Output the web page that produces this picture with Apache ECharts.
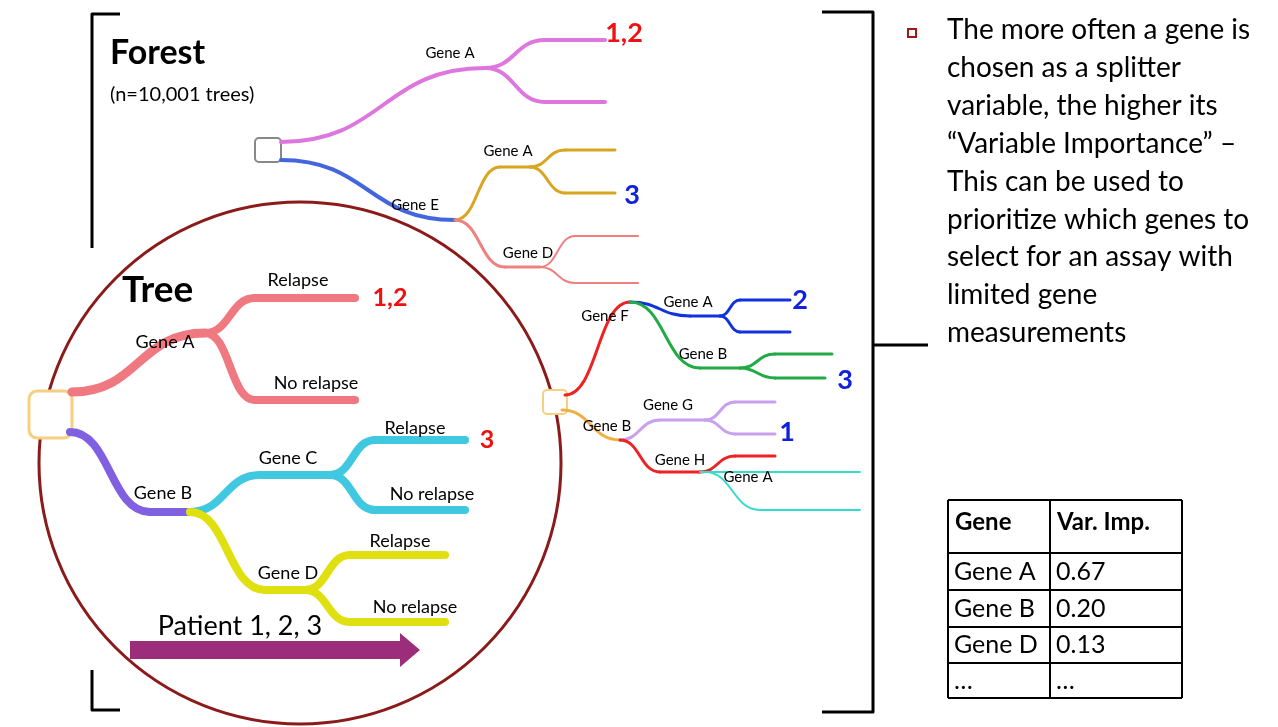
<!DOCTYPE html>
<html><head><meta charset="utf-8">
<script src="https://cdn.jsdelivr.net/npm/echarts@6/dist/echarts.min.js"></script>
<style>html,body{margin:0;background:#fff}#main{width:1278px;height:727px}</style>
</head><body><div id="main"></div>
<script>
// branch segments: x1, y1, x2, y2, colour, width (S-curve, flat when y1==y2)
var branches = [
  // forest tree 1
  [281,142,485,68,'#dd77dd',4],[485,68,545,40,'#dd77dd',4],[545,40,605,40,'#dd77dd',4],
  [485,68,545,102,'#dd77dd',4],[545,102,605,102,'#dd77dd',4],
  [281,160,455,220,'#4466dd',4],
  [455,220,500,167,'#d9a520',3],[500,167,530,167,'#d9a520',3],[530,167,565,150,'#d9a520',3],[565,150,615,150,'#d9a520',3],
  [530,167,565,193,'#d9a520',3],[565,193,615,193,'#d9a520',3],
  [455,220,505,267,'#f08080',3],[505,267,540,267,'#f08080',3],[540,267,575,236,'#f08080',2],[575,236,638,236,'#f08080',2],
  [540,267,575,283,'#f08080',2],[575,283,638,283,'#f08080',2],
  // forest tree 2
  [565,395,630,302,'#ee2222',3],
  [630,302,690,316,'#1133dd',3],[690,316,720,316,'#1133dd',3],[720,316,740,300,'#1133dd',3],[740,300,790,300,'#1133dd',3],
  [720,316,740,332,'#1133dd',3],[740,332,790,332,'#1133dd',3],
  [630,302,700,368,'#22aa44',3],[700,368,740,368,'#22aa44',3],[740,368,775,354,'#22aa44',3],[775,354,832,354,'#22aa44',3],
  [740,368,775,378,'#22aa44',3],[775,378,825,378,'#22aa44',3],
  [562,410,620,440,'#f0b040',3],
  [620,440,660,420,'#c8a0f0',3],[660,420,705,420,'#c8a0f0',3],[705,420,735,402,'#c8a0f0',3],[735,402,775,402,'#c8a0f0',3],
  [705,420,735,434,'#c8a0f0',3],[735,434,775,434,'#c8a0f0',3],
  [620,440,660,472,'#ee2222',3],[660,472,700,472,'#ee2222',3],[700,472,735,456,'#ee2222',3],[735,456,775,456,'#ee2222',3],
  [700,472,760,472,'#33ddcc',2],[760,472,860,472,'#33ddcc',2],[705,472,760,510,'#33ddcc',2],[760,510,860,510,'#33ddcc',2],
  // tree in circle
  [72,392,205,333,'#f07880',9],[205,333,255,298,'#f07880',8],[255,298,355,298,'#f07880',8],
  [205,333,255,400,'#f07880',8],[255,400,355,400,'#f07880',8],
  [70,432,150,512,'#8060e0',8],[150,512,190,512,'#8060e0',8],
  [190,512,260,475,'#40c8e0',8],[260,475,330,475,'#40c8e0',8],[330,475,375,440,'#40c8e0',8],[375,440,465,440,'#40c8e0',8],
  [330,475,375,510,'#40c8e0',8],[375,510,465,510,'#40c8e0',8],
  [190,512,265,590,'#e0e010',8],[265,590,305,590,'#e0e010',8],[305,590,350,555,'#e0e010',8],[350,555,445,555,'#e0e010',8],
  [305,590,350,622,'#e0e010',8],[350,622,445,622,'#e0e010',8]
];
// labels: x, y, text, colour, size, weight, align
var labels = [
  [110,53,'Forest','#000',34,'bold','left'],[110,95,'(n=10,001 trees)','#000',20,'normal','left'],
  [450,53,'Gene A','#000',15,'normal','center'],[415,205,'Gene E','#000',15,'normal','center'],
  [508,151,'Gene A','#000',15,'normal','center'],[528,253,'Gene D','#000',15,'normal','center'],
  [624,33,'1,2','#ee1111',27,'bold','center'],[632,195,'3','#1122dd',27,'bold','center'],
  [605,316,'Gene F','#000',15,'normal','center'],[688,302,'Gene A','#000',15,'normal','center'],
  [703,354,'Gene B','#000',15,'normal','center'],[607,426,'Gene B','#000',15,'normal','center'],
  [668,405,'Gene G','#000',15,'normal','center'],[680,460,'Gene H','#000',15,'normal','center'],
  [748,477,'Gene A','#000',15,'normal','center'],
  [800,300,'2','#1122dd',27,'bold','center'],[845,380,'3','#1122dd',27,'bold','center'],[787,432,'1','#1122dd',27,'bold','center'],
  [122,290,'Tree','#000',37,'bold','left'],
  [165,342,'Gene A','#000',18,'normal','center'],[298,280,'Relapse','#000',18,'normal','center'],
  [316,383,'No relapse','#000',18,'normal','center'],[390,298,'1,2','#ee1111',25,'bold','center'],
  [163,493,'Gene B','#000',18,'normal','center'],[288,458,'Gene C','#000',18,'normal','center'],
  [415,428,'Relapse','#000',18,'normal','center'],[432,494,'No relapse','#000',18,'normal','center'],
  [487,440,'3','#ee1111',25,'bold','center'],
  [288,573,'Gene D','#000',18,'normal','center'],[400,541,'Relapse','#000',18,'normal','center'],
  [415,607,'No relapse','#000',18,'normal','center'],[240,626,'Patient 1, 2, 3','#000',27,'normal','center']
];
var bulletLines = ['The more often a gene is','chosen as a splitter','variable, the higher its',
  '\u201cVariable Importance\u201d \u2013','This can be used to','prioritize which genes to',
  'select for an assay with','limited gene','measurements'];
var tableHeader = ['Gene','Var. Imp.'];
var tableRows = [['Gene A','0.67'],['Gene B','0.20'],['Gene D','0.13'],['\u2026','\u2026']];
var tableRowY = [500,553,590,627,663,698];
var tableColX = [948,1050,1182];

var FONT = 'Lato, "Open Sans", sans-serif';
var myChart = echarts.init(document.getElementById('main'));
function P(api,x,y){return api.coord([x,y]);}

function branchItem(params, api){
  var b = branches[params.dataIndex];
  var a = P(api,b[0],b[1]), c = P(api,b[2],b[3]), m = (a[0]+c[0])/2;
  return {type:'bezierCurve',shape:{x1:a[0],y1:a[1],x2:c[0],y2:c[1],cpx1:m,cpy1:a[1],cpx2:m,cpy2:c[1]},
    style:{stroke:b[4],lineWidth:b[5],fill:null,lineCap:'round'}};
}
function labelItem(params, api){
  var l = labels[params.dataIndex], p = P(api,l[0],l[1]);
  return {type:'text',x:p[0],y:p[1],style:{text:l[2],fill:l[3],font:l[5]+' '+l[4]+'px '+FONT,align:l[6],verticalAlign:'middle'}};
}
function decorItem(params, api){
  var ch = [];
  var c = P(api,300,463), r = api.size([261,0])[0];
  ch.push({type:'circle',shape:{cx:c[0],cy:c[1],r:r},style:{stroke:'#8b1a1a',lineWidth:3,fill:null}});
  var b1 = P(api,29,391);
  ch.push({type:'rect',shape:{x:b1[0],y:b1[1],width:43,height:47,r:8},style:{stroke:'#f5d080',lineWidth:3,fill:'#fff'}});
  var b2 = P(api,255,138);
  ch.push({type:'rect',shape:{x:b2[0],y:b2[1],width:26,height:24,r:4},style:{stroke:'#888',lineWidth:2,fill:'#fff'}});
  var b3 = P(api,543,390);
  ch.push({type:'rect',shape:{x:b3[0],y:b3[1],width:24,height:24,r:4},style:{stroke:'#f5d080',lineWidth:2,fill:'#fff'}});
  var arrow = [[130,641],[400,641],[400,633],[420,650],[400,667],[400,659],[130,659]].map(function(q){return P(api,q[0],q[1]);});
  ch.push({type:'polygon',shape:{points:arrow},style:{fill:'#9b2d7a'}});
  var black = {stroke:'#000',lineWidth:3,fill:null,lineJoin:'round'};
  ch.push({type:'polyline',shape:{points:[[120,14],[92,14],[92,248]].map(function(q){return P(api,q[0],q[1]);})},style:black});
  ch.push({type:'polyline',shape:{points:[[92,670],[92,710],[120,710]].map(function(q){return P(api,q[0],q[1]);})},style:black});
  ch.push({type:'polyline',shape:{points:[[822,12],[873,12],[873,712],[822,712]].map(function(q){return P(api,q[0],q[1]);})},style:black});
  ch.push({type:'polyline',shape:{points:[[873,345],[928,345]].map(function(q){return P(api,q[0],q[1]);})},style:black});
  var bl = P(api,908,29);
  ch.push({type:'rect',shape:{x:bl[0],y:bl[1],width:8,height:8},style:{stroke:'#a01818',lineWidth:2,fill:null}});
  bulletLines.forEach(function(t,i){
    var p = P(api,947,30+i*37.9);
    ch.push({type:'text',x:p[0],y:p[1],style:{text:t,fill:'#000',font:'28px '+FONT,verticalAlign:'middle'}});
  });
  var thin = {stroke:'#000',lineWidth:2,fill:null};
  tableRowY.forEach(function(y){
    ch.push({type:'line',shape:{x1:P(api,948,y)[0],y1:P(api,948,y)[1],x2:P(api,1182,y)[0],y2:P(api,1182,y)[1]},style:thin});
  });
  tableColX.forEach(function(x){
    ch.push({type:'line',shape:{x1:P(api,x,500)[0],y1:P(api,x,500)[1],x2:P(api,x,698)[0],y2:P(api,x,698)[1]},style:thin});
  });
  tableHeader.forEach(function(t,j){
    var p = P(api,tableColX[j]+7,522);
    ch.push({type:'text',x:p[0],y:p[1],style:{text:t,fill:'#000',font:'bold 24px '+FONT,verticalAlign:'middle'}});
  });
  tableRows.forEach(function(row,i){
    row.forEach(function(t,j){
      var p = P(api,tableColX[j]+6,(tableRowY[i+1]+tableRowY[i+2])/2);
      ch.push({type:'text',x:p[0],y:p[1],style:{text:t,fill:'#000',font:'25px '+FONT,verticalAlign:'middle'}});
    });
  });
  return {type:'group',children:ch};
}

var option = {
  backgroundColor:'#fff',
  animation:false,
  grid:{left:0,right:0,top:0,bottom:0},
  xAxis:{type:'value',min:0,max:1278,show:false},
  yAxis:{type:'value',min:0,max:727,inverse:true,show:false},
  series:[
    {type:'custom',renderItem:decorItem,data:[0],z:1},
    {type:'custom',renderItem:branchItem,data:branches.map(function(b){return [b[0],b[1]];}),z:2},
    {type:'custom',renderItem:labelItem,data:labels.map(function(l){return [l[0],l[1]];}),z:3}
  ]
};
myChart.setOption(option);
</script></body></html>
